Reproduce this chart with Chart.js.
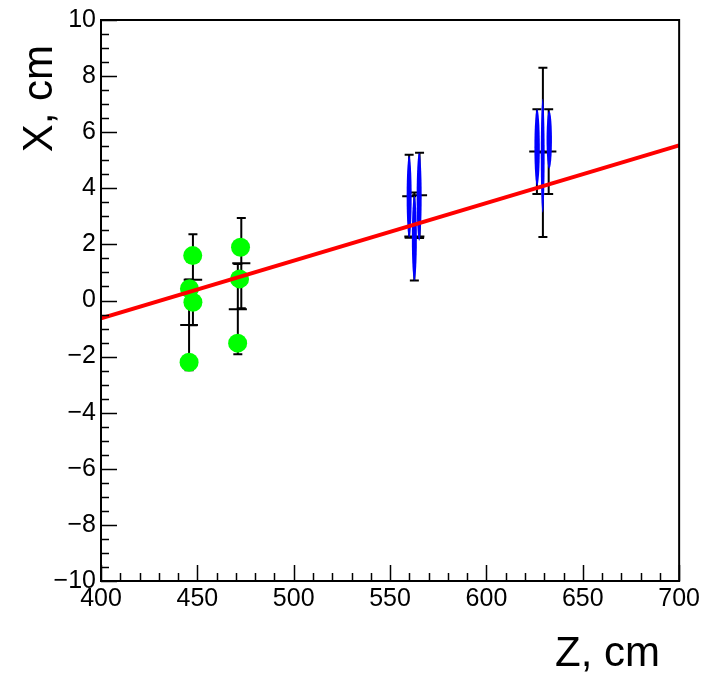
<!DOCTYPE html>
<html><head><meta charset="utf-8">
<script src="https://cdn.jsdelivr.net/npm/chart.js@4.4.1/dist/chart.umd.min.js"></script>
<style>html,body{margin:0;padding:0;background:#fff;}#wrap{width:703px;height:675px;}</style>
</head><body><div id="wrap"><canvas id="c" width="703" height="675"></canvas></div>
<script>
// Tick labels
const xTickValues = [400, 450, 500, 550, 600, 650, 700];
const yTickValues = [-10, -8, -6, -4, -2, 0, 2, 4, 6, 8, 10];

// Green hits
const greenX = [447.6, 445.9, 447.7, 445.7, 472.4, 471.9, 470.9];
const greenY = [1.60, 0.42, -0.06, -2.20, 1.90, 0.77, -1.52];

// Black error points
const errX  = [447.7, 445.7, 472.8, 471.0, 559.9, 562.6, 565.3, 626.2, 629.3, 632.3];
const errY  = [0.74, -0.87, 1.33, -0.31, 3.72, 2.28, 3.75, 5.31, 5.28, 5.31];
const errYe = [1.62, 1.62, 1.61, 1.61, 1.48, 1.57, 1.52, 1.51, 3.02, 1.51];
const errXe = [4.8, 4.6, 4.7, 4.7, 3.6, 5.2, 3.9, 4.0, 3.0, 4.0];

// Blue ellipses
const ellX  = [559.9, 562.6, 565.1, 626.3, 629.2, 632.6];
const ellY  = [3.70, 2.22, 3.70, 5.46, 5.16, 5.73];
const ellRx = [1.3, 1.3, 1.3, 1.4, 1.0, 1.4];
const ellRy = [1.46, 1.51, 1.57, 1.37, 2.03, 1.03];

// Fit line
const fitX = [400, 700];
const fitY = [-0.64, 5.53];

const FONT = '"Liberation Sans", Arial, Helvetica, sans-serif';

const rootPlugin = {
  id: 'root',
  beforeDatasetsDraw(chart) {
    const ctx = chart.ctx, xs = chart.scales.x, ys = chart.scales.y;
    ctx.save();
    ctx.strokeStyle = '#000';
    ctx.lineWidth = 2;
    for (let i = 0; i < errX.length; i++) {
      const px = xs.getPixelForValue(errX[i]);
      const py = ys.getPixelForValue(errY[i]);
      const t = ys.getPixelForValue(errY[i] + errYe[i]);
      const b = ys.getPixelForValue(errY[i] - errYe[i]);
      const l = xs.getPixelForValue(errX[i] - errXe[i]);
      const r = xs.getPixelForValue(errX[i] + errXe[i]);
      ctx.beginPath();
      ctx.moveTo(px, t); ctx.lineTo(px, b);
      ctx.moveTo(l, py); ctx.lineTo(r, py);
      ctx.moveTo(px - 4.5, t); ctx.lineTo(px + 4.5, t);
      ctx.moveTo(px - 4.5, b); ctx.lineTo(px + 4.5, b);
      ctx.stroke();
    }
    ctx.restore();
  },
  afterDatasetDraw(chart, args) {
    if (args.meta.label !== 'hits') return;
    const ctx = chart.ctx, xs = chart.scales.x, ys = chart.scales.y;
    ctx.save();
    ctx.fillStyle = '#0000ff';
    for (let i = 0; i < ellX.length; i++) {
      const cx = xs.getPixelForValue(ellX[i]);
      const cy = ys.getPixelForValue(ellY[i]);
      const rx = Math.abs(xs.getPixelForValue(ellX[i] + ellRx[i]) - cx);
      const ry = Math.abs(ys.getPixelForValue(ellY[i] + ellRy[i]) - cy);
      ctx.beginPath();
      ctx.ellipse(cx, cy, rx, ry, 0, 0, Math.PI * 2);
      ctx.fill();
    }
    ctx.restore();
  },
  afterDraw(chart) {
    const ctx = chart.ctx, xs = chart.scales.x, ys = chart.scales.y;
    const a = chart.chartArea;
    ctx.save();
    ctx.strokeStyle = '#000';
    ctx.lineWidth = 2;
    ctx.strokeRect(a.left, a.top, a.right - a.left, a.bottom - a.top);
    ctx.lineWidth = 1.5;
    ctx.beginPath();
    for (let v = 400; v <= 700; v += 10) {
      const px = Math.round(xs.getPixelForValue(v)) + 0.5;
      const len = (v % 50 === 0) ? 16 : 8;
      ctx.moveTo(px, a.bottom); ctx.lineTo(px, a.bottom - len);
    }
    for (let v = -10; v <= 10; v += 0.5) {
      const py = Math.round(ys.getPixelForValue(v)) + 0.5;
      const len = (Math.abs(v % 2) < 1e-9) ? 16 : 8;
      ctx.moveTo(a.left, py); ctx.lineTo(a.left + len, py);
    }
    ctx.stroke();
    // axis titles
    ctx.fillStyle = '#000';
    ctx.font = '42px ' + FONT;
    ctx.textAlign = 'right';
    ctx.textBaseline = 'alphabetic';
    ctx.fillText('Z, cm', 660, 666);
    ctx.translate(52, 45);
    ctx.rotate(-Math.PI / 2);
    ctx.fillText('X, cm', 0, 0);
    ctx.restore();
  }
};

new Chart(document.getElementById('c'), {
  type: 'scatter',
  data: {
    datasets: [
      {
        label: 'fit', type: 'line', order: 0,
        data: fitX.map((x, i) => ({x, y: fitY[i]})),
        borderColor: '#ff0000', borderWidth: 4, pointRadius: 0, fill: false, tension: 0
      },
      {
        label: 'hits', order: 1,
        data: greenX.map((x, i) => ({x, y: greenY[i]})),
        backgroundColor: '#00ff00', borderWidth: 0, pointRadius: 9.5, pointHoverRadius: 9.5
      }
    ]
  },
  options: {
    responsive: false, animation: false, devicePixelRatio: 1,
    layout: {padding: {top: 19, right: 22, left: 0, bottom: 0}},
    plugins: {legend: {display: false}, tooltip: {enabled: false}},
    events: [],
    scales: {
      x: {
        type: 'linear', min: 400, max: 700,
        afterBuildTicks: s => { s.ticks = xTickValues.map(v => ({value: v})); },
        afterFit: s => { s.height = 94; },
        grid: {display: false, drawTicks: false},
        border: {display: false},
        ticks: {font: {family: FONT, size: 25}, color: '#000', padding: 3, maxRotation: 0, autoSkip: false}
      },
      y: {
        type: 'linear', min: -10, max: 10,
        afterBuildTicks: s => { s.ticks = yTickValues.map(v => ({value: v})); },
        afterFit: s => { s.width = 101; },
        grid: {display: false, drawTicks: false},
        border: {display: false},
        ticks: {font: {family: FONT, size: 25}, color: '#000', padding: 5, autoSkip: false,
                callback: v => String(v).replace('-', '\u2212')}
      }
    }
  },
  plugins: [rootPlugin]
});
</script></body></html>
